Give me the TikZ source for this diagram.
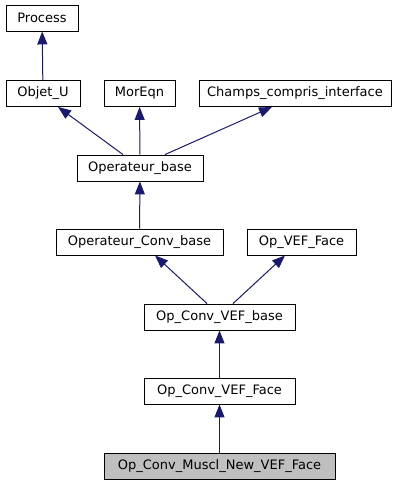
\documentclass[tikz,border=0pt]{standalone}
\usepackage{fontspec}
\setmainfont{DejaVu Sans}
\usetikzlibrary{arrows.meta,positioning,calc}

\definecolor{edgeblue}{RGB}{25,25,112}
\definecolor{curgray}{RGB}{191,191,191}

\tikzset{
        cls/.style={draw=black, line width=0.9pt, fill=white, minimum height=26pt, inner sep=0pt,
                font=\fontsize{13}{15}\selectfont},
        cur/.style={cls, fill=curgray},
        inh/.style={draw=edgeblue, line width=1pt, -{Triangle[length=13pt,width=10pt]}}
}

\begin{document}
\begin{tikzpicture}[x=1pt,y=-1pt]
        \useasboundingbox (0,0) rectangle (403,485);

        \node[cls, minimum width=72pt] (process) at (42,18) {Process};
        \node[cls, minimum width=74pt] (objetu) at (43,93.5) {Objet\_U};
        \node[cls, minimum width=71pt] (moreqn) at (139.5,93.5) {MorEqn};
        \node[cls, minimum width=192pt] (champs) at (295,93.5) {Champs\_compris\_interface};
        \node[cls, minimum width=126pt] (opbase) at (140,168) {Operateur\_base};
        \node[cls, minimum width=167pt] (opconvbase) at (139.5,242) {Operateur\_Conv\_base};
        \node[cls, minimum width=109pt] (opveface) at (301.5,242) {Op\_VEF\_Face};
        \node[cls, minimum width=151pt] (convvefbase) at (219.5,317) {Op\_Conv\_VEF\_base};
        \node[cls, minimum width=151pt] (convvefface) at (219.5,391) {Op\_Conv\_VEF\_Face};
        \node[cur, minimum width=231pt] (muscl) at (219.5,466.5) {Op\_Conv\_Muscl\_New\_VEF\_Face};

        \draw[inh] (objetu) -- (process);
        \draw[inh] ([xshift=-17pt]opbase.north) -- ([xshift=15pt]objetu.south);
        \draw[inh] (opbase) -- (moreqn);
        \draw[inh] ([xshift=25pt]opbase.north) -- ([xshift=-23pt]champs.south);
        \draw[inh] (opconvbase) -- (opbase);
        \draw[inh] ([xshift=-12.5pt]convvefbase.north) -- ([xshift=15.5pt]opconvbase.south);
        \draw[inh] ([xshift=13.5pt]convvefbase.north) -- ([xshift=-16.5pt]opveface.south);
        \draw[inh] (convvefface) -- (convvefbase);
        \draw[inh] (muscl) -- (convvefface);
\end{tikzpicture}
\end{document}
